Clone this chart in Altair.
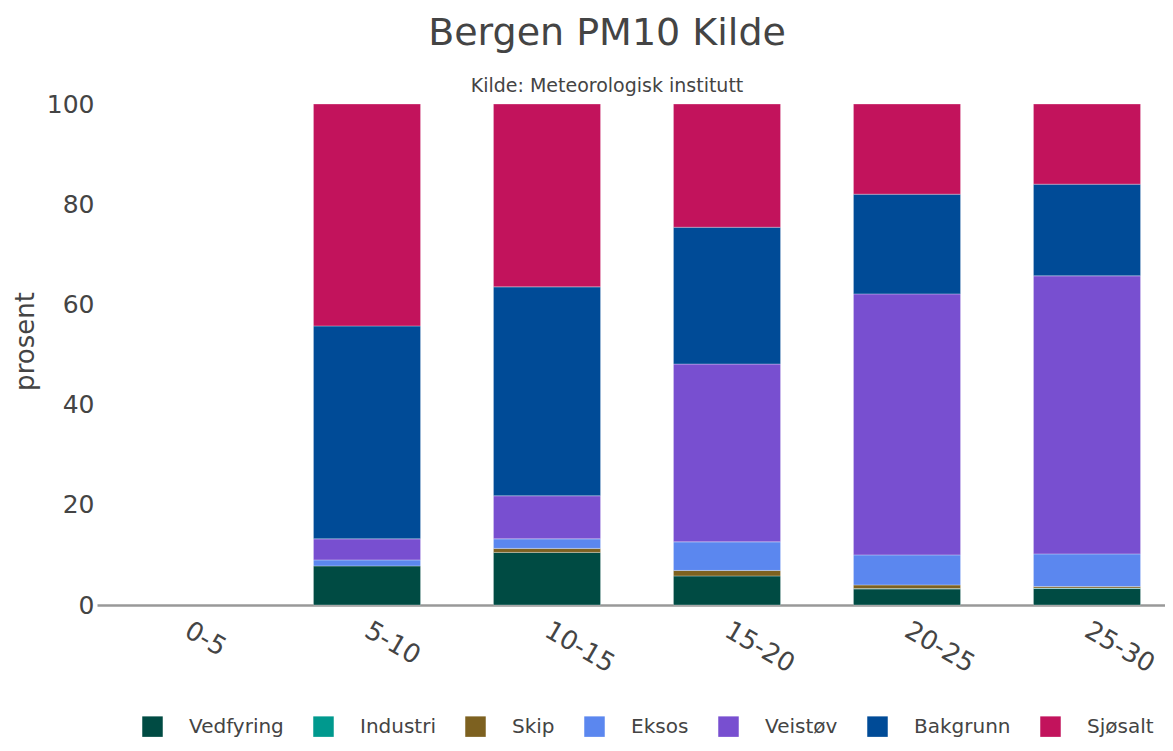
import altair as alt
import pandas as pd

categories = ["0-5", "5-10", "10-15", "15-20", "20-25", "25-30"]
sources = ["Vedfyring", "Industri", "Skip", "Eksos", "Veistøv", "Bakgrunn", "Sjøsalt"]
colors = ["#004b43", "#00998e", "#7d6120", "#5b87ef", "#784fd0", "#004b97", "#c2135c"]

vedfyring = [0, 7.8, 10.5, 5.8, 3.2, 3.3]
industri = [0, 0.0, 0.0, 0.0, 0.1, 0.1]
skip = [0, 0.0, 0.8, 1.1, 0.7, 0.3]
eksos = [0, 1.2, 1.9, 5.7, 6.0, 6.5]
veistov = [0, 4.2, 8.6, 35.5, 52.1, 55.5]
bakgrunn = [0, 42.5, 41.7, 27.3, 19.9, 18.3]
sjosalt = [0, 44.3, 36.5, 24.6, 18.0, 16.0]

series = [vedfyring, industri, skip, eksos, veistov, bakgrunn, sjosalt]
rows = []
for si, (name, vals) in enumerate(zip(sources, series)):
    for cat, v in zip(categories, vals):
        if v > 0:
            rows.append({"kategori": cat, "kilde": name, "prosent": v, "ordre": si})
df = pd.DataFrame(rows)

FONT = "DejaVu Sans"
TXT = "#444"

chart = alt.Chart(df).mark_bar(stroke="white", strokeWidth=0.6, strokeOpacity=0.5).encode(
    x=alt.X("kategori:N", title=None,
            scale=alt.Scale(domain=categories, range=[0, 1080],
                            paddingInner=0.405, paddingOuter=0.2025),
            axis=alt.Axis(labelAngle=30, labelAlign="left", labelBaseline="middle",
                          labelFontSize=26, labelColor=TXT, labelFont=FONT,
                          labelPadding=23, ticks=False, domainColor="#999",
                          domainWidth=2.5, grid=False)),
    y=alt.Y("prosent:Q", title="prosent", stack="zero",
            scale=alt.Scale(domain=[0, 100], nice=False),
            axis=alt.Axis(values=[0, 20, 40, 60, 80, 100], labelFontSize=25,
                          labelColor=TXT, labelFont=FONT, ticks=False,
                          domain=False, grid=False, labelPadding=3,
                          titleFontSize=26, titleColor=TXT, titleFont=FONT,
                          titleFontWeight="normal", titleX=-72, titleY=237,
                          titleBaseline="middle", titleAlign="center", titleAngle=270)),
    color=alt.Color("kilde:N",
                    scale=alt.Scale(domain=sources, range=colors),
                    legend=alt.Legend(title=None, orient="none", direction="horizontal",
                                      legendX=45, legendY=612, padding=0,
                                      symbolType="square", symbolSize=420,
                                      symbolStrokeWidth=0, labelFontSize=20,
                                      labelColor=TXT, labelFont=FONT,
                                      columnPadding=29, labelOffset=26,
                                      symbolOpacity=1)),
    order=alt.Order("ordre:Q", sort="ascending"),
).properties(
    width=1068,
    height=501,
    autosize=alt.AutoSizeParams(type="none"),
    title=alt.TitleParams(
        "Bergen PM10 Kilde",
        subtitle="Kilde: Meteorologisk institutt",
        fontSize=38, font=FONT, color=TXT, fontWeight="normal",
        subtitleFontSize=19, subtitleFont=FONT, subtitleColor=TXT,
        subtitlePadding=24, anchor="middle", dx=-24, offset=-4,
    ),
    padding={"left": 89, "top": 96, "right": 0, "bottom": 138},
).configure_view(stroke=None)

chart.save("out.html", embed_options={"renderer": "svg", "actions": False})
